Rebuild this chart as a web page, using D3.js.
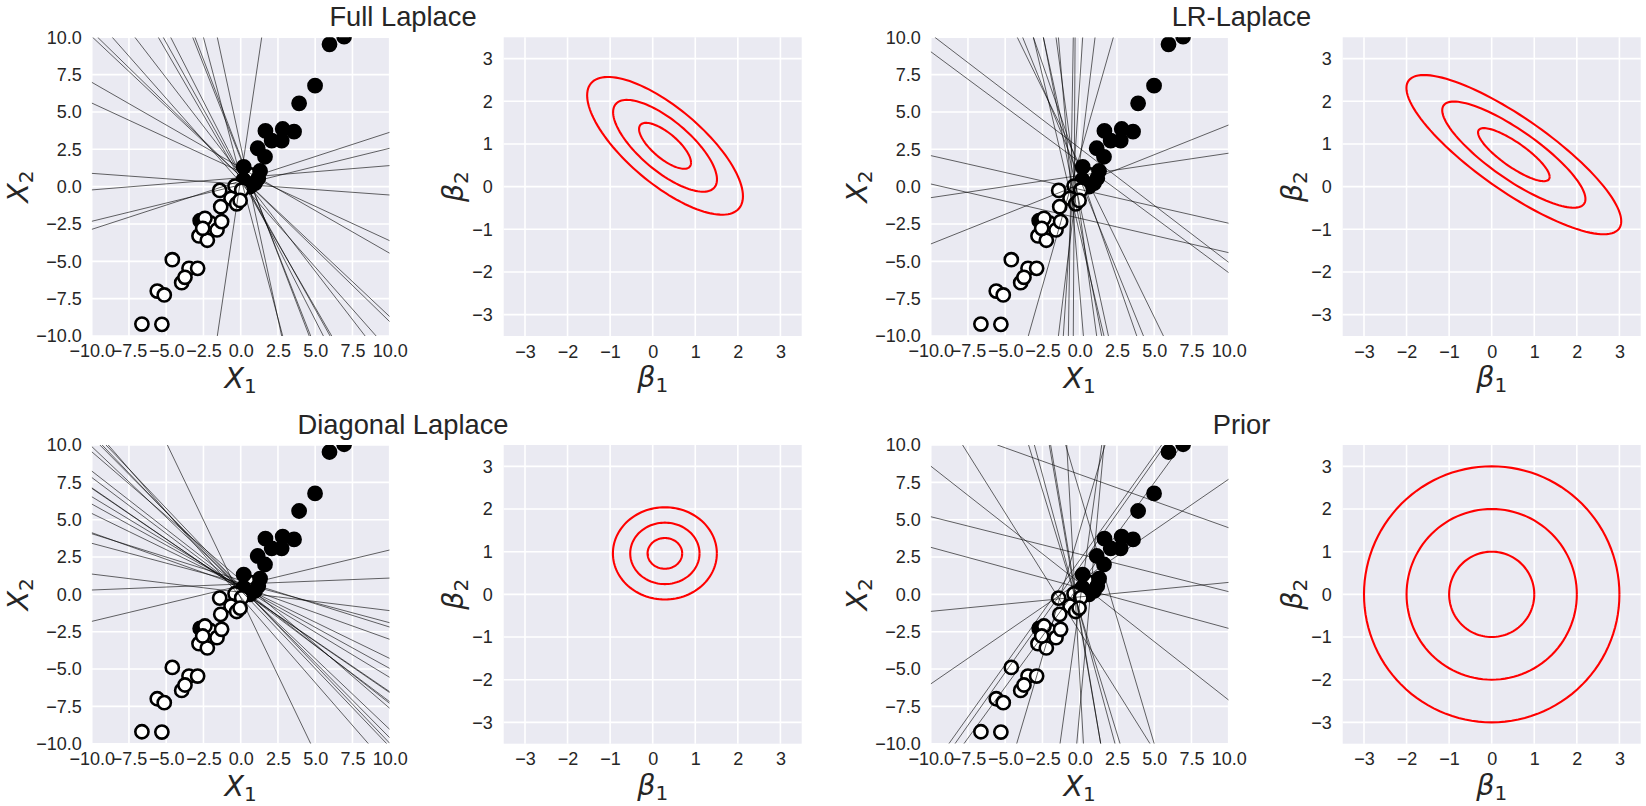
<!DOCTYPE html>
<html><head><meta charset="utf-8">
<script src="https://d3js.org/d3.v7.min.js"></script>
<style>
html,body{margin:0;padding:0;background:#fff;overflow:hidden}
svg{display:block}
text{font-family:"Liberation Sans",Arial,sans-serif;fill:#262626}
.math{font-family:"DejaVu Sans";}
</style></head><body>
<svg id="c" width="1646" height="806"></svg>
<script>
// ---------- data ----------
const titles = ["Full Laplace","LR-Laplace","Diagonal Laplace","Prior"];
const scatterTicks = [-10,-7.5,-5,-2.5,0,2.5,5,7.5,10];
const scatterTickLabels = ["\u221210.0","\u22127.5","\u22125.0","\u22122.5","0.0","2.5","5.0","7.5","10.0"];
const betaTicks = [-3,-2,-1,0,1,2,3];
const betaTickLabels = ["\u22123","\u22122","\u22121","0","1","2","3"];

// X1, X2 of the observations
const hiddenOpen = [[0.7,0.78],[-2.05,-2.42]];
const filled = [[-2.72,-2.28],[5.96,9.53],[6.94,10.05],[4.99,6.76],[3.92,5.58],[3.58,3.68],[2.82,3.86],[2.75,3.08],[2.08,3.08],[1.66,3.73],[1.14,2.57],[1.63,2.0],[1.3,1.05],[0.2,1.32],[0.96,0.23],[0.62,0.0],[0.18,0.45],[1.18,0.56]];
const open = [[-6.63,-9.2],[-5.29,-9.22],[-5.6,-6.99],[-5.13,-7.25],[-4.59,-4.89],[-3.47,-5.47],[-3.96,-6.43],[-3.74,-6.07],[-2.89,-5.47],[-2.8,-3.3],[-1.59,-2.9],[-2.24,-3.59],[-2.4,-2.12],[-2.55,-2.79],[-1.28,-2.34],[-1.34,-1.34],[-1.41,-0.25],[-0.38,0.04],[-0.65,-0.78],[0.07,-0.22],[-0.27,-1.15],[-0.04,-0.92]];

// decision boundaries: two points on each line [x1,y1,x2,y2]
const fullLines = [[-10,0.89,10,-0.56],[-10,-0.22,10,1.41],[-10,-2.32,10,2.57],[-10,-2.86,10,3.64],[-10,5.6,10,-3.62],[-10,6.99,10,-4.46],[-9.94,10,10,-8.7],[-9.6,10,10,-9.04],[-8.62,10,9.09,-10],[-7.1,10,8.35,-10],[-5.53,10,6.11,-10],[-5.2,10,6.0,-10],[-4.7,10,5.55,-10],[-3.22,10,4.7,-10],[-3.07,10,4.6,-10],[-2.5,10,2.82,-10],[-1.57,10,2.75,-10],[1.41,10,-1.57,-10]];
const lrLines = [[-9.72,10,10,-5.07],[-10,9.04,10,-5.76],[-10,2.08,10,-2.45],[-10,0.18,10,-4.42],[-10,-0.74,10,2.24],[-10,-3.84,10,4.13],[2.26,10,-3.45,-10],[1.03,10,-1.43,-10],[0.2,10,-1.1,-10],[-0.31,10,-0.43,-10],[-0.43,10,-0.76,-10],[-1.43,10,0.25,-10],[-1.59,10,1.14,-10],[-2.44,10,1.93,-10],[-3.11,10,3.83,-10],[-3.83,10,4.28,-10],[-4.19,10,5.62,-10],[-3.11,10,1.63,-10],[-2.44,10,1.48,-10]];
const diagLines = [[-10,-1.81,10,2.97],[-10,0.29,10,1.09],[-10,1.36,10,-1.09],[-10,3.42,10,-1.9],[-10,4.06,10,-2.19],[-10,4.13,10,-3.01],[-10,5.42,10,-4.29],[-10,6.05,10,-4.96],[-10,6.54,10,-5.56],[-10,7.1,10,-6.52],[-10,7.14,10,-6.58],[-10,7.83,10,-7.19],[-10,8.26,10,-7.3],[-10,9.55,10,-7.63],[-10,9.9,10,-9.04],[-9.45,10,10,-9.6],[-9.04,10,10,-9.97],[-8.89,10,8.57,-10],[-9.3,10,9.8,-10],[-4.92,10,4.7,-10]];
const priorLines = [[-10,8.59,10,-7.08],[-10,5.2,10,0.18],[-10,3.15,10,-2.28],[-10,-1.14,10,0.8],[-10,-6.0,10,7.71],[-7.86,10,4.72,-10],[-5.53,10,10,4.46],[5.5,10,-8.78,-10],[5.75,10,-8.37,-10],[6.85,10,-7.77,-10],[1.7,10,-4.23,-10],[-3.43,10,2.71,-10],[-3.04,10,2.37,-10],[-2.04,10,1.41,-10],[-1.95,10,1.41,-10],[-0.94,10,5.0,-10],[-0.87,10,0.25,-10],[1.48,10,-1.32,-10],[1.63,10,-0.2,-10]];
const panelLines = [fullLines,lrLines,diagLines,priorLines];

// posterior parameters: mean 1, mean 2, sd 1, sd 2, correlation
const meanB1 = [0.29,0.52,0.286,0];
const meanB2 = [0.957,0.75,0.96,0];
const sdB1   = [0.61,0.841,0.407,1];
const sdB2   = [0.538,0.622,0.36,1];
const corrB  = [-0.732,-0.836,0,0];
const contourLevels = [1,2,3];

// ---------- layout ----------
const W = 298, H = 298.7;
const col = [{a:91.7,b:503.7,t:403},{a:930.7,b:1342.7,t:1241.5}];
const row = [37.3,445];
const svg = d3.select("#c");
const defs = svg.append("defs");

function mathLabel(g, base, sub, x, y, rotate){
  const t = g.append("text").attr("class","math")
    .attr("text-anchor","middle").attr("font-size",28.5)
    .attr("transform",`translate(${x},${y})`+(rotate?" rotate(-90)":""));
  t.append("tspan").attr("font-style","italic").text(base);
  t.append("tspan").attr("font-size",20).attr("dy",5).text(sub);
}
function frame(g, x, y, ticks, labels, padX, padY){
  g.append("rect").attr("width",W).attr("height",H).attr("fill","#EAEAF2");
  g.append("g").selectAll("line").data(ticks).join("line")
    .attr("x1",d=>x(d)).attr("x2",d=>x(d)).attr("y1",0).attr("y2",H)
    .attr("stroke","#fff").attr("stroke-width",1.6);
  g.append("g").selectAll("line").data(ticks).join("line")
    .attr("y1",d=>y(d)).attr("y2",d=>y(d)).attr("x1",0).attr("x2",W)
    .attr("stroke","#fff").attr("stroke-width",1.6);
  const fmt = d=>labels[ticks.indexOf(d)];
  const ax = g.append("g").attr("transform",`translate(0,${H})`)
    .call(d3.axisBottom(x).tickValues(ticks).tickFormat(fmt).tickSize(0).tickPadding(padX));
  const ay = g.append("g")
    .call(d3.axisLeft(y).tickValues(ticks).tickFormat(fmt).tickSize(0).tickPadding(padY));
  [ax,ay].forEach(a=>{
    a.select(".domain").remove();
    a.selectAll("text").attr("font-size",18).attr("font-family","Liberation Sans").attr("fill","#262626");
  });
}

titles.forEach((title,i)=>{
  const c = col[i%2], top = row[Math.floor(i/2)];
  svg.append("text").attr("x",c.t).attr("y",top-11.3).attr("text-anchor","middle")
    .attr("font-size",27.3).text(title);

  // scatter panel
  const x = d3.scaleLinear().domain([-10,10]).range([0,W]);
  const y = d3.scaleLinear().domain([-10,10]).range([H,0]);
  const g = svg.append("g").attr("transform",`translate(${c.a},${top})`);
  frame(g,x,y,scatterTicks,scatterTickLabels,8.5,10);
  const cid = "clip"+i;
  defs.append("clipPath").attr("id",cid).append("rect").attr("width",W).attr("height",H);
  const inner = g.append("g").attr("clip-path",`url(#${cid})`);
  const pts = (data,fill,r,sw)=>inner.append("g").selectAll("circle").data(data).join("circle")
    .attr("cx",d=>x(d[0])).attr("cy",d=>y(d[1])).attr("r",r)
    .attr("fill",fill).attr("stroke","#000").attr("stroke-width",sw);
  pts(hiddenOpen,"#fff",6.6,2.6);
  pts(filled,"#000",6.6,2.6);
  pts(open,"#fff",6.6,2.6);
  inner.append("g").selectAll("line").data(panelLines[i]).join("line")
    .attr("x1",d=>x(d[0])).attr("y1",d=>y(d[1])).attr("x2",d=>x(d[2])).attr("y2",d=>y(d[3]))
    .attr("stroke","#000").attr("stroke-opacity",0.6).attr("stroke-width",1);
  mathLabel(g,"X","1",W/2,H+52,false);
  mathLabel(g,"X","2",-64,H/2,true);

  // parameter panel
  const bx = d3.scaleLinear().domain([-3.5,3.5]).range([0,W]);
  const by = d3.scaleLinear().domain([-3.5,3.5]).range([H,0]);
  const h = svg.append("g").attr("transform",`translate(${c.b},${top})`);
  frame(h,bx,by,betaTicks,betaTickLabels,9,11);
  const angles = d3.range(0,361,3).map(d=>d*Math.PI/180);
  const sq = Math.sqrt(1-corrB[i]*corrB[i]);
  contourLevels.forEach(k=>{
    const line = d3.line()
      .x(a=>bx(meanB1[i]+k*sdB1[i]*Math.cos(a)))
      .y(a=>by(meanB2[i]+k*sdB2[i]*(corrB[i]*Math.cos(a)+sq*Math.sin(a))));
    h.append("path").attr("d",line(angles)).attr("fill","none")
      .attr("stroke","#ff0000").attr("stroke-width",2.1);
  });
  mathLabel(h,"\u03b2","1",W/2,H+51,false);
  mathLabel(h,"\u03b2","2",-41,H/2,true);
});
</script>
</body></html>
